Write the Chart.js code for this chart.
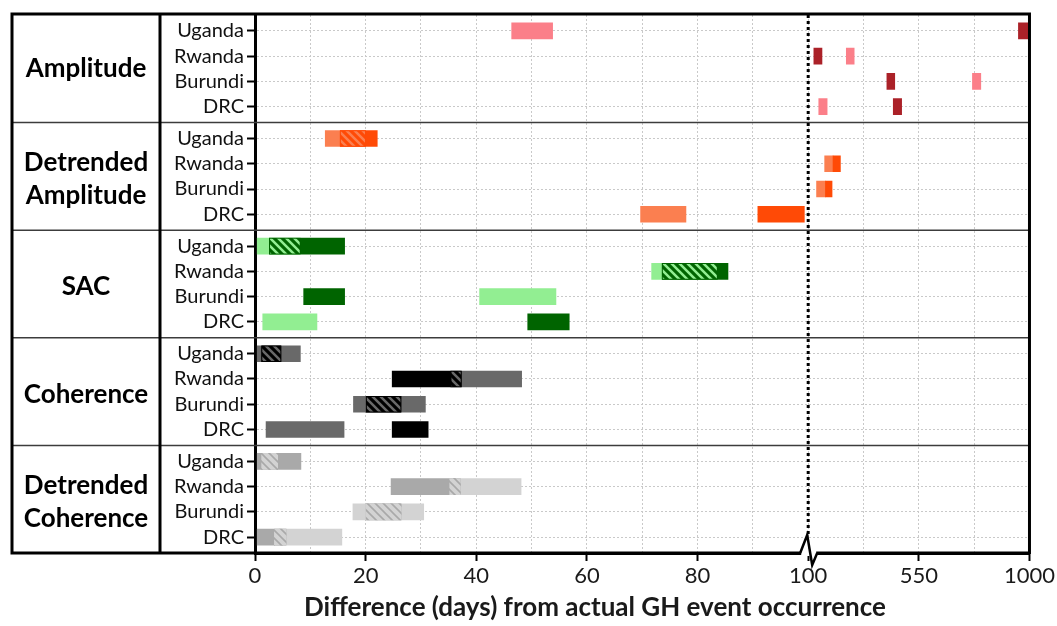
<!DOCTYPE html>
<html>
<head>
<meta charset="utf-8">
<title>Difference from actual GH event occurrence</title>
<script src="https://cdn.jsdelivr.net/npm/chart.js@4.4.1/dist/chart.umd.min.js"></script>
<style>
  html, body { margin: 0; padding: 0; background: #fff; }
  #wrap { width: 1057px; height: 626px; }
</style>
</head>
<body>
<div id="wrap"><canvas id="leadChart"></canvas></div>
<script>
const countries = ["Uganda", "Rwanda", "Burundi", "DRC"];
const methods = ["Amplitude", "Detrended Amplitude", "SAC", "Coherence", "Detrended Coherence"];
const xTickValues = [0, 20, 40, 60, 80, 100, 550, 1000];
const xTitle = "Difference (days) from actual GH event occurrence";

// [start, end] in days, one entry per country (Uganda, Rwanda, Burundi, DRC)
const ampLight = [[46.4, 53.8], [255, 287], [768, 802], [143, 177]];
const ampDark = [[955, 1000], [123, 156], [420, 452], [446, 480]];

const detAmpLight = [[12.7, 20], [167, 201], [134, 170], [69.7, 77.9]];
const detAmpDark = [[15.4, 22.1], [201, 231], [170, 197], [90.9, 99.3]];

const sacLight = [[0.4, 8.2], [71.7, 83.6], [40.6, 54.4], [1.4, 11.2]];
const sacDark = [[2.6, 16.2], [73.6, 85.5], [8.8, 16.2], [49.3, 56.8]];

const cohLight = [[0.4, 8.2], [35.4, 48.2], [17.8, 30.8], [2, 16.1]];
const cohDark = [[1.2, 4.7], [24.8, 37.3], [20.1, 26.4], [24.8, 31.3]];

const detCohLight = [[1.2, 4.1], [35.2, 48.1], [17.7, 30.5], [3.5, 15.7]];
const detCohDark = [[0.4, 8.3], [24.6, 37.1], [20.1, 26.4], [0.4, 5.6]];

// axis is broken after 100 days: 100..1000 squeezed into 40 axis units
function toAxis(days) {
  return days <= 100 ? days : 100 + (days - 100) / 22.5;
}
function toDays(v) {
  return v <= 100 ? v : Math.round(100 + (v - 100) * 22.5);
}

const GROUP_SPAN = 4.26;
const GROUP_EDGE = 0.63;
function rowValue(g, r) {
  return g * GROUP_SPAN + GROUP_EDGE + r;
}

const canvas = document.getElementById("leadChart");
const ctx = canvas.getContext("2d");

function makeHatch(bg, stripe, width) {
  const tile = document.createElement("canvas");
  tile.width = 8;
  tile.height = 8;
  const g = tile.getContext("2d");
  g.fillStyle = bg;
  g.fillRect(0, 0, 8, 8);
  g.strokeStyle = stripe;
  g.lineWidth = width;
  g.beginPath();
  g.moveTo(-2, -2); g.lineTo(10, 10);
  g.moveTo(-2, 6); g.lineTo(2, 10);
  g.moveTo(6, -2); g.lineTo(10, 2);
  g.stroke();
  return ctx.createPattern(tile, "repeat");
}

const methodStyles = [
  { light: ampLight, dark: ampDark, lightColor: "#fb7f89", darkColor: "#ab2128", hatch: null, edge: null },
  { light: detAmpLight, dark: detAmpDark, lightColor: "#fb7f50", darkColor: "#ff4a06",
    hatch: makeHatch("#ff4a06", "#fb7f50", 2.5), edge: "#ff4a06" },
  { light: sacLight, dark: sacDark, lightColor: "#92ee92", darkColor: "#006400",
    hatch: makeHatch("#006400", "#92ee92", 2.5), edge: "#006400" },
  { light: cohLight, dark: cohDark, lightColor: "#696969", darkColor: "#000000",
    hatch: makeHatch("#000000", "#696969", 2.5), edge: "#000000" },
  { light: detCohLight, dark: detCohDark, lightColor: "#d3d3d3", darkColor: "#a9a9a9",
    hatch: makeHatch("#d3d3d3", "#a9a9a9", 1.6), edge: null },
];

function toPoints(ranges, g) {
  const pts = [];
  ranges.forEach((rg, r) => {
    if (rg) pts.push({ x: [toAxis(rg[0]), toAxis(rg[1])], y: rowValue(g, r) });
  });
  return pts;
}

function overlapPoints(a, b, g) {
  const pts = [];
  a.forEach((rg, r) => {
    const other = b[r];
    if (!rg || !other) return;
    const s = Math.max(rg[0], other[0]);
    const e = Math.min(rg[1], other[1]);
    if (e > s) pts.push({ x: [toAxis(s), toAxis(e)], y: rowValue(g, r) });
  });
  return pts;
}

const datasets = [];
methodStyles.forEach((m, g) => {
  datasets.push({ label: methods[g] + " (a)", data: toPoints(m.light, g), backgroundColor: m.lightColor, order: 2 });
  datasets.push({ label: methods[g] + " (b)", data: toPoints(m.dark, g), backgroundColor: m.darkColor, order: 1 });
  if (m.hatch) {
    datasets.push({
      label: methods[g] + " (both)",
      data: overlapPoints(m.light, m.dark, g),
      backgroundColor: m.hatch,
      borderColor: m.edge || "rgba(0,0,0,0)",
      borderWidth: m.edge ? 1 : 0,
      order: 0,
    });
  }
});

const framePlugin = {
  id: "frame",
  afterDraw(chart) {
    const { ctx, chartArea: a, scales: { x, y } } = chart;
    const left = 12;
    const divider = 160;
    ctx.save();

    ctx.strokeStyle = "#3c3c3c";
    ctx.lineWidth = 1.5;
    for (let g = 1; g < methods.length; g++) {
      const py = y.getPixelForValue(g * GROUP_SPAN);
      ctx.beginPath();
      ctx.moveTo(left, py);
      ctx.lineTo(a.right, py);
      ctx.stroke();
    }

    ctx.strokeStyle = "#000";
    ctx.lineWidth = 3;
    ctx.strokeRect(left, a.top - 1, a.right - left, a.bottom - a.top + 1);
    ctx.beginPath();
    ctx.moveTo(divider, a.top);
    ctx.lineTo(divider, a.bottom);
    ctx.stroke();

    ctx.fillStyle = "#000";
    ctx.font = "bold 26px Lato";
    ctx.textAlign = "center";
    ctx.textBaseline = "middle";
    methods.forEach((name, g) => {
      const cy = y.getPixelForValue(g * GROUP_SPAN + GROUP_SPAN / 2) + (g > 0 ? 3 : 0);
      const lines = name.split(" ");
      lines.forEach((ln, i) => {
        ctx.fillText(ln, (left + divider) / 2, cy + (i - (lines.length - 1) / 2) * 33);
      });
    });

    // axis title sits left of the plot centre in the original
    ctx.fillStyle = "#1a1a1a";
    ctx.fillText(xTitle, 595, 608);

    const px = x.getPixelForValue(100);
    ctx.setLineDash([3, 3]);
    ctx.lineWidth = 3;
    ctx.beginPath();
    ctx.moveTo(px, a.top);
    ctx.lineTo(px, a.bottom - 18);
    ctx.stroke();
    ctx.setLineDash([]);

    ctx.fillStyle = "#fff";
    ctx.fillRect(px - 7, a.bottom - 3, 15, 6);
    ctx.lineWidth = 2.5;
    ctx.beginPath();
    ctx.moveTo(px - 8, a.bottom);
    ctx.lineTo(px - 1, a.bottom - 18);
    ctx.lineTo(px + 4, a.bottom + 12);
    ctx.lineTo(px + 9, a.bottom);
    ctx.stroke();
    ctx.restore();
  },
};

new Chart(canvas, {
  type: "bar",
  data: { datasets },
  options: {
    indexAxis: "y",
    responsive: true,
    maintainAspectRatio: false,
    animation: false,
    layout: { padding: { left: 12, right: 27, top: 15, bottom: 0 } },
    datasets: {
      bar: { barThickness: 16, grouped: false, borderSkipped: false },
    },
    scales: {
      x: {
        type: "linear",
        min: 0,
        max: 140,
        afterFit: (axis) => { axis.height = 73; },
        ticks: {
          stepSize: 10,
          autoSkip: false,
          maxRotation: 0,
          padding: 2,
          color: "#1a1a1a",
          font: { family: "Lato", size: 22 },
          callback: (v) => (xTickValues.includes(toDays(v)) ? String(toDays(v)) : ""),
        },
        grid: {
          color: "#c9c9c9",
          lineWidth: 1,
          tickLength: 8,
          tickWidth: 2,
          tickColor: (c) => (c.tick && xTickValues.includes(toDays(c.tick.value)) ? "#000" : "rgba(0,0,0,0)"),
        },
        border: { color: "#000", width: 3, dash: [2, 2] },
        title: { display: false },
      },
      y: {
        type: "linear",
        reverse: true,
        offset: false,
        min: 0,
        max: GROUP_SPAN * methods.length,
        afterFit: (axis) => { axis.width = 243; },
        afterBuildTicks: (axis) => {
          const ticks = [];
          methods.forEach((m, g) => countries.forEach((c, r) => ticks.push({ value: rowValue(g, r) })));
          axis.ticks = ticks;
        },
        ticks: {
          padding: 3,
          color: "#111",
          font: { family: "Lato", size: 20 },
          callback: (v, i) => countries[i % countries.length],
        },
        grid: {
          offset: false,
          color: "#c9c9c9",
          lineWidth: 1,
          tickLength: 8,
          tickWidth: 2,
          tickColor: "#000",
        },
        border: { color: "#000", width: 3, dash: [2, 2] },
      },
    },
    plugins: {
      legend: { display: false },
      tooltip: { enabled: true },
    },
  },
  plugins: [framePlugin],
});
</script>
</body>
</html>
